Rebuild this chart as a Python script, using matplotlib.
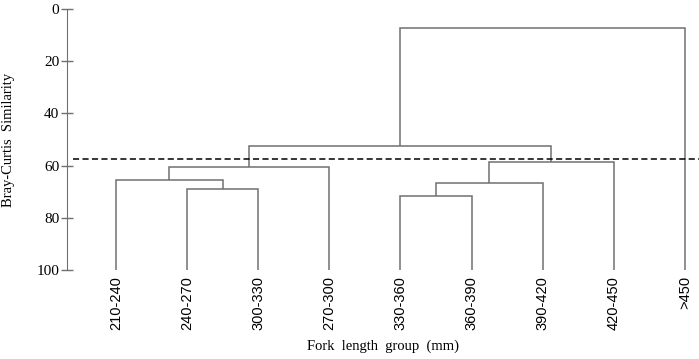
import matplotlib
matplotlib.use("Agg")
import matplotlib.pyplot as plt
from matplotlib import font_manager

# ---- data ----
leaf_labels = ["210-240", "240-270", "300-330", "270-300", "330-360",
               "360-390", "390-420", "420-450", ">450"]
# merges: (left node, right node, similarity level); nodes >= 9 are earlier merges
merge_left = [1, 0, 10, 4, 12, 13, 11, 15]
merge_right = [2, 9, 3, 5, 6, 7, 14, 8]
merge_height = [68.8, 65.4, 60.7, 71.8, 66.5, 58.7, 52.5, 7.2]
cut_level = 57.6
y_ticks = [0, 20, 40, 60, 80, 100]

names = {f.name for f in font_manager.fontManager.ttflist}
narrow = "Liberation Sans Narrow" if "Liberation Sans Narrow" in names else "Liberation Sans"
leaf_size = 12.5 if narrow == "Liberation Sans Narrow" else 10.5

fig = plt.figure(figsize=(6.99, 3.59), dpi=100)
ax = fig.add_axes([67/699, 1 - 270/359, 1 - 67/699, (270 - 9)/359])

line_color = "#707070"
n = len(leaf_labels)
node_x = {i: float(i) for i in range(n)}
node_y = {i: 100.0 for i in range(n)}
for k, (a, b, h) in enumerate(zip(merge_left, merge_right, merge_height)):
    xa, xb = node_x[a], node_x[b]
    ya, yb = node_y[a], node_y[b]
    ax.plot([xa, xa, xb, xb], [ya, h, h, yb], color=line_color, lw=1.1,
            solid_joinstyle="miter", solid_capstyle="butt")
    node_x[n + k] = (xa + xb) / 2
    node_y[n + k] = h

ax.axhline(cut_level, xmin=(73 - 67)/(699 - 67), xmax=1, color="black",
           lw=1.1, dashes=(4, 2.2))

ax.set_xlim((67 - 116)/71.1, (699 - 116)/71.1)
ax.set_ylim(100, 0)

for s in ["top", "right", "bottom"]:
    ax.spines[s].set_visible(False)
ax.spines["left"].set_color(line_color)
ax.spines["left"].set_bounds(0, 100)

ax.set_yticks(y_ticks)
ax.set_yticklabels([str(t) for t in y_ticks], family="Liberation Serif", fontsize=11)
ax.tick_params(axis="y", direction="inout", length=8, width=1, color=line_color,
               pad=1.5)

ax.set_xticks(range(n))
ax.set_xticklabels(leaf_labels, rotation=90, family=narrow, fontsize=leaf_size,
                   va="top")
ax.tick_params(axis="x", length=0, pad=4.5)

ax.set_ylabel("Bray-Curtis  Similarity", family="Liberation Serif", fontsize=10.5)
ax.yaxis.set_label_coords((15 - 67)/632, 0.5)
ax.set_xlabel("Fork  length  group  (mm)", family="Liberation Serif", fontsize=10.5)
ax.xaxis.set_label_coords(0.5, -(340 - 270)/261)

fig.savefig("out.png", dpi=100)
